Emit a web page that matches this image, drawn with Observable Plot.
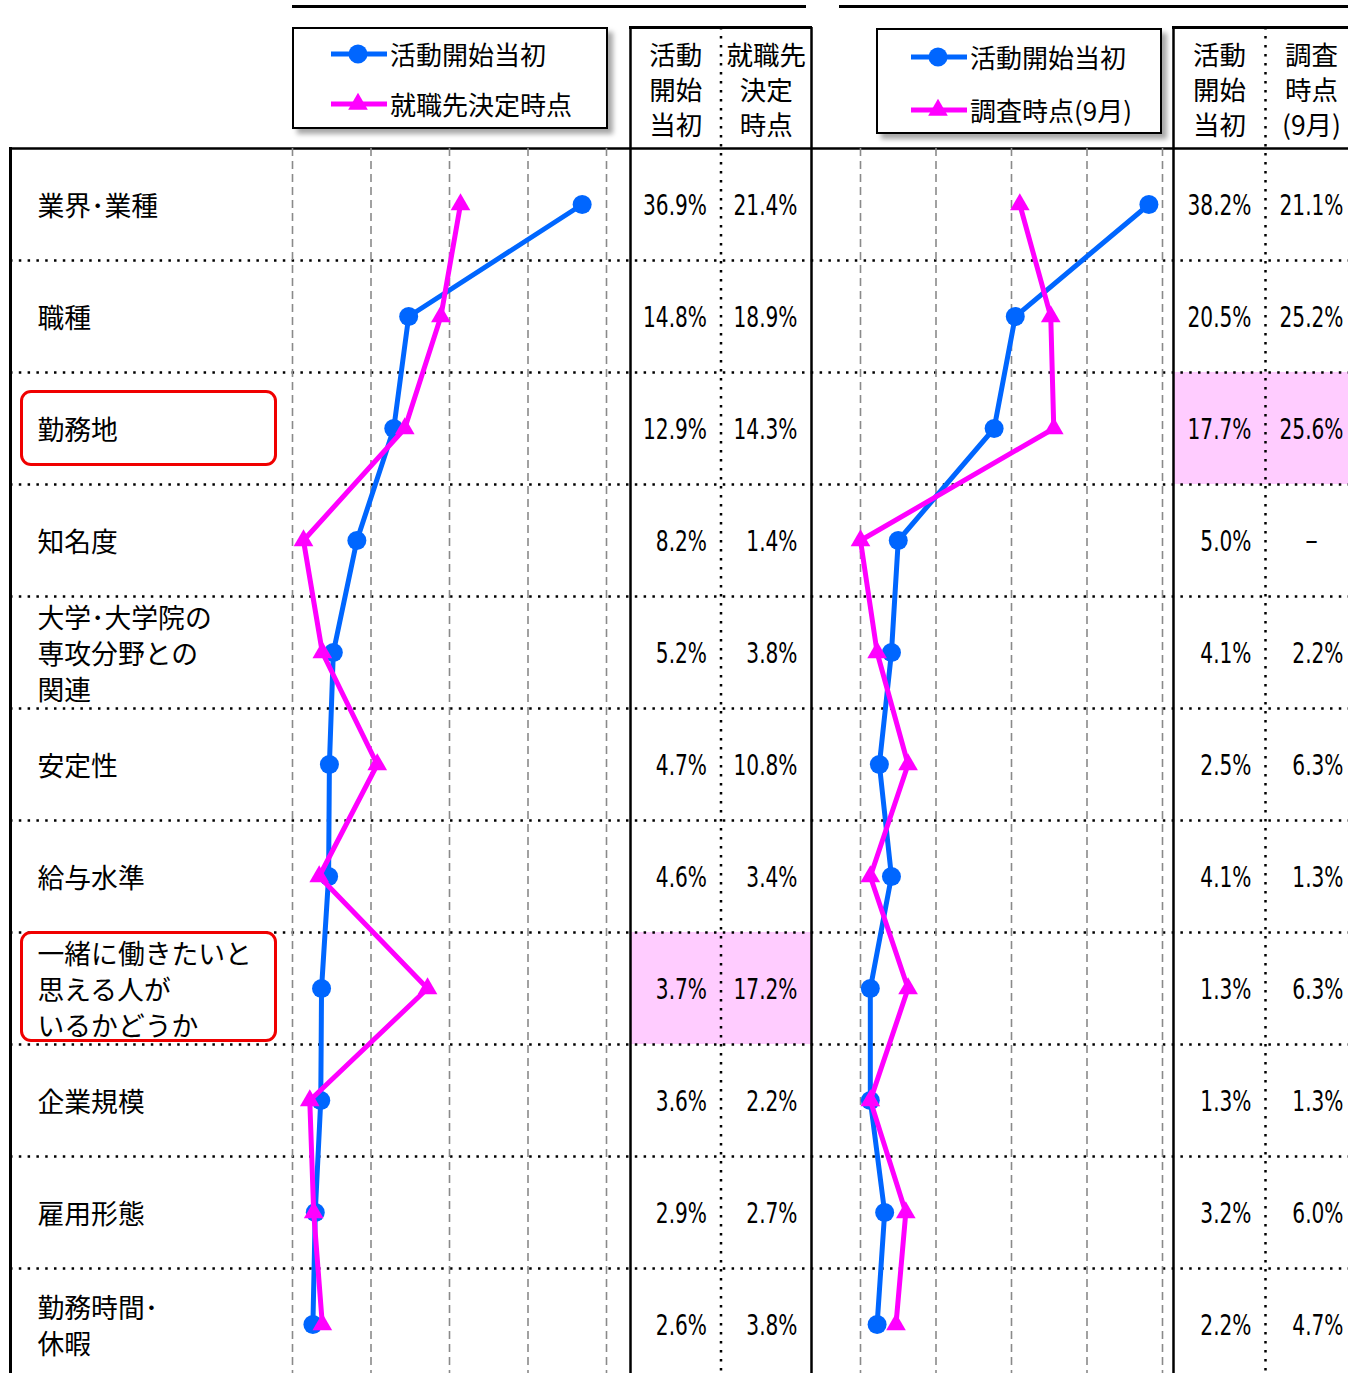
<!DOCTYPE html>
<html><head><meta charset="utf-8">
<script src="https://cdn.jsdelivr.net/npm/d3@7"></script>
<script src="https://cdn.jsdelivr.net/npm/@observablehq/plot@0.6"></script>
<style>
body{margin:0;background:#fff;}
#root{position:relative;width:1348px;height:1373px;overflow:hidden;background:#fff;font-family:"Noto Sans CJK JP","Noto Sans",sans-serif;color:#000;}
.abs{position:absolute;box-sizing:border-box;}
.ltxt{position:absolute;font-size:26px;line-height:38px;white-space:nowrap;}
</style></head>
<body><div id="root"></div>
<script>
// ---- data ----
const categories = ["業界･業種","職種","勤務地","知名度","大学･大学院の\n専攻分野との\n関連","安定性","給与水準","一緒に働きたいと\n思える人が\nいるかどうか","企業規模","雇用形態","勤務時間･\n休暇"];
const employedStart   = [36.9,14.8,12.9,8.2,5.2,4.7,4.6,3.7,3.6,2.9,2.6];
const employedDecided = [21.4,18.9,14.3,1.4,3.8,10.8,3.4,17.2,2.2,2.7,3.8];
const unplacedStart   = [38.2,20.5,17.7,5.0,4.1,2.5,4.1,1.3,1.3,3.2,2.2];
const unplacedSurvey  = [21.1,25.2,25.6,0,2.2,6.3,1.3,6.3,1.3,6.0,4.7];
const xTicks = [0,10,20,30,40];
const legend1Names = ["活動開始当初","就職先決定時点"];
const legend2Names = ["活動開始当初","調査時点(9月)"];
const table1Headers = ["活動\n開始\n当初","就職先\n決定\n時点"];
const table2Headers = ["活動\n開始\n当初","調査\n時点\n(9月)"];
const table1Highlight = [7];
const table2Highlight = [2];

// ---- styles ----
const BLUE = "#0066ff", MAGENTA = "#ff00ff", PINK = "#ffccff";
const NUMFONT = "'DejaVu Sans Condensed','DejaVu Sans',sans-serif";
const JPFONT = "'Noto Sans CJK JP','Noto Sans',sans-serif";
const W = 1348, H = 1373, rowTop = 148, rowH = 112;
const root = document.getElementById("root");
const idx = categories.map((_, i) => i);
const yScale = {type: "linear", domain: [-0.5, categories.length - 0.5], range: [rowTop, rowTop + rowH * categories.length], axis: null};

function layer(opts) {
  const svg = Plot.plot({
    width: W, height: H, marginTop: rowTop, marginLeft: 0, marginRight: 0, marginBottom: 0,
    y: yScale,
    style: {position: "absolute", left: "0px", top: "0px", background: "transparent", overflow: "visible", maxWidth: "none"},
    ...opts
  });
  root.appendChild(svg);
  return svg;
}
function div(css, html) {
  const d = document.createElement("div");
  d.className = "abs";
  d.style.cssText = css;
  if (html !== undefined) d.innerHTML = html;
  root.appendChild(d);
  return d;
}
function condense(svg, cls, k) {
  svg.querySelectorAll("." + cls + " text").forEach(el => {
    const t = el.getAttribute("transform") || "";
    if (/translate/.test(t)) el.setAttribute("transform", t + ` scale(${k},1)`);
    else {
      const x = +el.getAttribute("x") || 0, y = +el.getAttribute("y") || 0;
      el.removeAttribute("x"); el.removeAttribute("y");
      el.setAttribute("transform", `translate(${x},${y}) scale(${k},1)`);
    }
  });
}

// ---- tables ----
function table(range, a, b, headers, highlight, showBorderRight) {
  const cells = [];
  idx.forEach(i => {
    cells.push({col: 0, i, v: a[i]});
    cells.push({col: 1, i, v: b[i]});
  });
  const svg = layer({
    marginTop: 27,
    x: {domain: [-0.5, 1.5], range, axis: null},
    marks: [
      Plot.rect(highlight, {x1: -0.5, x2: 1.5, y1: i => i - 0.5, y2: i => i + 0.5, fill: PINK}),
      Plot.ruleX([0.5], {stroke: "#000", strokeWidth: 2.5, strokeDasharray: "2.5,6.5"}),
      Plot.ruleX(showBorderRight ? [-0.5, 1.5] : [-0.5], {stroke: "#000", strokeWidth: 2.5}),
      Plot.text(cells.filter(d => d.v !== 0), {x: d => d.col + 0.5, y: "i", text: d => d.v.toFixed(1) + "%", textAnchor: "end", dx: -14, dy: 2, fontSize: 28, fontFamily: NUMFONT, fill: "#000", className: "num"}),
      Plot.text(cells.filter(d => d.v === 0), {x: "col", y: "i", text: () => "–", textAnchor: "middle", dy: 1, fontSize: 28, fontFamily: NUMFONT, fill: "#000"}),
      Plot.text(headers, {x: (d, j) => j, text: d => d, frameAnchor: "top", dy: 61, lineAnchor: "middle", lineHeight: 1.33, fontSize: 26.5, fontFamily: JPFONT, fill: "#000"})
    ]
  });
  condense(svg, "num", 0.8);
}
table([630, 811], employedStart, employedDecided, table1Headers, table1Highlight, true);
table([1173, 1357], unplacedStart, unplacedSurvey, table2Headers, table2Highlight, false);

// ---- row frame & labels ----
layer({
  marginLeft: 10,
  marks: [
    Plot.ruleY(idx.slice(1).map(i => i - 0.5), {stroke: "#000", strokeWidth: 2.5, strokeDasharray: "2.5,6.3"}),
    Plot.ruleY([-0.5], {stroke: "#000", strokeWidth: 2.5}),
    Plot.text(idx, {y: i => i, text: i => categories[i], frameAnchor: "left", dx: 27, dy: 0, textAnchor: "start", lineAnchor: "middle", lineHeight: 1.33, fontSize: 26.8, fontFamily: JPFONT, fill: "#000"})
  ]
});

// ---- panels ----
function panel(range, a, b) {
  layer({
    x: {domain: [0, 40], range, axis: null},
    marks: [
      Plot.ruleX(xTicks, {stroke: "#8a8a8a", strokeWidth: 1.6, strokeDasharray: "8,5"}),
      Plot.line(idx, {x: i => a[i], y: i => i, stroke: BLUE, strokeWidth: 5}),
      Plot.dot(idx, {x: i => a[i], y: i => i, r: 9.5, fill: BLUE}),
      Plot.line(idx, {x: i => b[i], y: i => i, stroke: MAGENTA, strokeWidth: 5}),
      Plot.dot(idx, {x: i => b[i], y: i => i, symbol: "triangle", r: 7.3, fill: MAGENTA})
    ]
  });
}
panel([292, 606], employedStart, employedDecided);
panel([860, 1162], unplacedStart, unplacedSurvey);

// ---- structural lines ----
div("left:9px;top:147px;width:2.5px;height:1240px;background:#000;");
div("left:629px;top:26px;width:183px;height:2.5px;background:#000;");
div("left:1172px;top:26px;width:180px;height:2.5px;background:#000;");
div("left:292px;top:5px;width:514px;height:3px;background:#000;");
div("left:839px;top:5px;width:510px;height:3px;background:#000;");

// ---- circled labels ----
div("left:20px;top:390px;width:257px;height:76px;border:3px solid #f00000;border-radius:11px;");
div("left:20px;top:931px;width:257px;height:111px;border:3px solid #f00000;border-radius:11px;");

// ---- legends ----
function legend(box, names, items) {
  div(`left:${box[0]}px;top:${box[1]}px;width:${box[2]}px;height:${box[3]}px;border:2.5px solid #000;background:#fff;box-shadow:5px 5px 5px rgba(0,0,0,0.35);`);
  items.forEach((it, k) => {
    const sym = k === 0
      ? `<circle cx="27" cy="12" r="9.5" fill="${BLUE}"/>`
      : `<path d="${d3.symbol(d3.symbolTriangle, Math.PI * 7.3 * 7.3)()}" transform="translate(27,12)" fill="${MAGENTA}"/>`;
    const col = k === 0 ? BLUE : MAGENTA;
    div(`left:${it[0]}px;top:${it[1] - 12}px;width:56px;height:24px;`,
      `<svg width="56" height="24"><line x1="0" x2="56" y1="12" y2="12" stroke="${col}" stroke-width="5"/>${sym}</svg>`);
    const t = document.createElement("div");
    t.className = "ltxt";
    t.style.left = (it[0] + 59) + "px";
    t.style.top = (it[1] - 19) + "px";
    t.textContent = names[k];
    root.appendChild(t);
  });
}
legend([292, 27, 316, 102], legend1Names, [[331, 54], [331, 104]]);
legend([876, 28, 286, 106], legend2Names, [[911, 57], [911, 110]]);
</script>
</body></html>
